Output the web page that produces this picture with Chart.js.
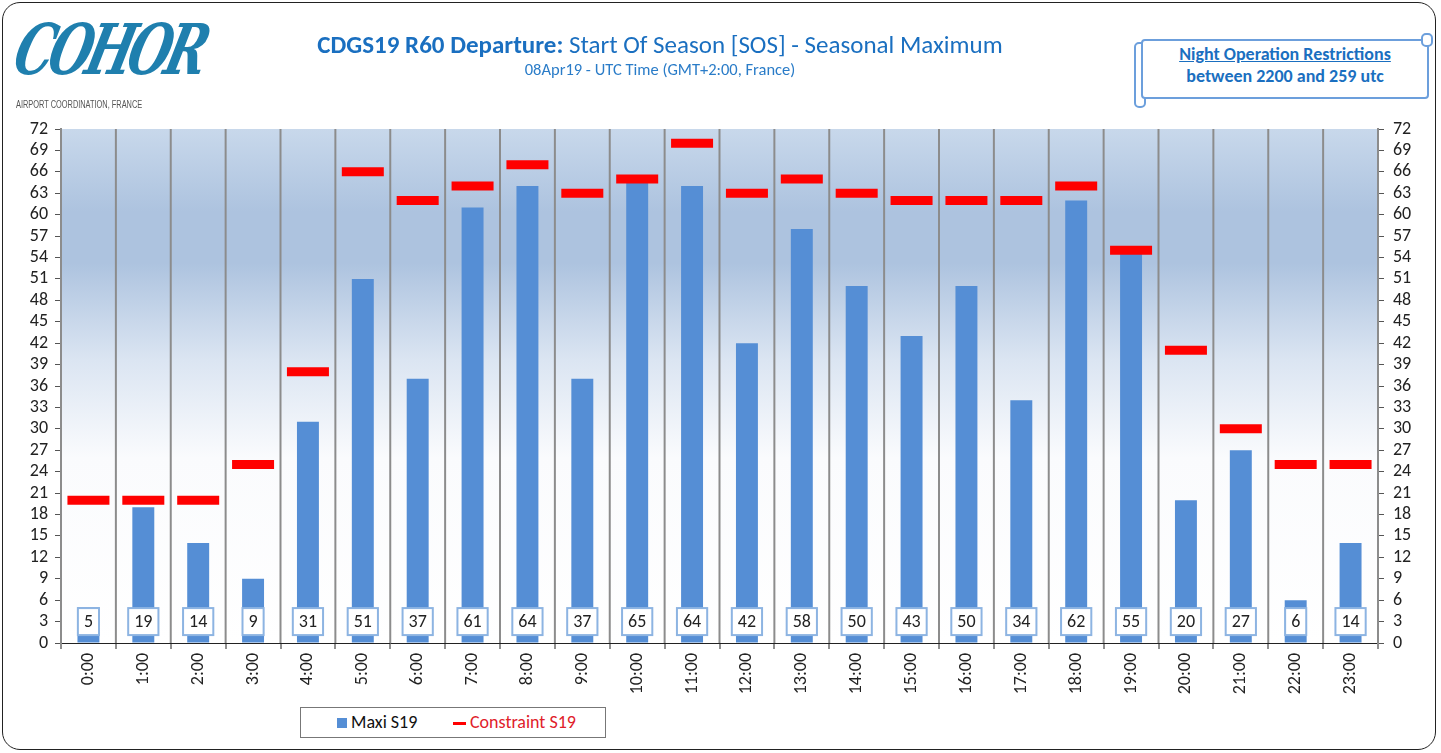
<!DOCTYPE html>
<html>
<head>
<meta charset="utf-8">
<script src="https://cdn.jsdelivr.net/npm/chart.js@4.4.1/dist/chart.umd.min.js"></script>
<style>
  body { margin: 0; background: #fff; font-family: Carlito, Lato, "Open Sans", sans-serif; }
  #page { position: relative; width: 1441px; height: 753px; overflow: hidden; }
  #frame { position: absolute; left: 2px; top: 2px; width: 1432px; height: 746px; border: 1.5px solid #222; border-radius: 18px; }
  #chartBox { position: absolute; left: 0; top: 0; width: 1441px; height: 753px; }
  #logo { position: absolute; left: 27px; top: 8px; font: italic bold 70px "DejaVu Serif", serif; color: #1f7fae; letter-spacing: -7px; transform-origin: left top; transform: skewX(-14deg) scaleX(0.7); }
  #logoSub { position: absolute; left: 16px; top: 99px; font: 10px "Liberation Sans Narrow", Arial, sans-serif; color: #555; transform-origin: left top; transform: scaleX(0.74); white-space: nowrap; }
  #title { position: absolute; left: 110px; width: 1100px; top: 29px; text-align: center; font-size: 25px; color: #1a6fc0; }
  #title b { font-weight: bold; }
  #subtitle { position: absolute; left: 160px; width: 1000px; top: 59px; text-align: center; font-size: 16.5px; color: #2a7cc8; }
  #scroll { position: absolute; left: 1141px; top: 39px; width: 284px; height: 56px; border: 2px solid #6c9fdc; border-radius: 4px; background: #fff; }
  #scrollL { position: absolute; left: 1134px; top: 42px; width: 8px; height: 62px; border: 2px solid #6c9fdc; border-radius: 5px; background: #fff; }
  #scrollR { position: absolute; left: 1421px; top: 33px; width: 8px; height: 10px; border: 2px solid #6c9fdc; border-radius: 5px; background: #fff; }
  #scrollText { position: absolute; left: 1145px; width: 280px; top: 43px; text-align: center; font-weight: bold; font-size: 18px; color: #1a6fc0; line-height: 22px; }
  #legend { position: absolute; left: 300px; top: 707px; width: 304px; height: 29px; border: 1px solid #777; background: #fff; font-size: 18px; }
  .lg { position: absolute; top: 3px; }
</style>
</head>
<body>
<div id="page">
  <div id="frame"></div>
  <div id="chartBox"><canvas id="chart1" width="1441" height="753"></canvas></div>
  <div id="logo">COHOR</div>
  <div id="logoSub">AIRPORT COORDINATION, FRANCE</div>
  <div id="title"><b>CDGS19 R60 Departure:</b> Start Of Season [SOS] - Seasonal Maximum</div>
  <div id="subtitle">08Apr19 - UTC Time (GMT+2:00, France)</div>
  <div id="scrollL"></div>
  <div id="scroll"></div>
  <div id="scrollR"></div>
  <div id="scrollText"><span style="text-decoration: underline;">Night Operation Restrictions</span><br>between 2200 and 259 utc</div>
  <div id="legend">
    <div class="lg" style="left:36px; top:10px; width:10px; height:10px; background:#558ed5;"></div>
    <div class="lg" style="left:50px; color:#111;">Maxi S19</div>
    <div class="lg" style="left:152px; top:14px; width:13px; height:3px; background:#ff0000;"></div>
    <div class="lg" style="left:169px; color:#e0202a;">Constraint S19</div>
  </div>
</div>
<script>
// hours of the day
let hours = ['0:00', '1:00', '2:00', '3:00', '4:00', '5:00', '6:00', '7:00', '8:00', '9:00', '10:00', '11:00',
    '12:00', '13:00', '14:00', '15:00', '16:00', '17:00', '18:00', '19:00', '20:00', '21:00', '22:00', '23:00'];

// Maxi S19 (bars)
let maxiS19 = [5, 19, 14, 9, 31, 51, 37, 61, 64, 37, 65, 64, 42, 58, 50, 43, 50, 34, 62, 55, 20, 27, 6, 14];

// Constraint S19 (red dashes)
let constraintS19 = [20, 20, 20, 25, 38, 66, 62, 64, 67, 63, 65, 70, 63, 65, 63, 62, 62, 62, 64, 55, 41, 30, 25, 25];

let yMax = 72;
let yStep = 3;

let tickFont = { family: 'Carlito, Lato, "Open Sans", sans-serif', size: 18 };

// gradient behind the plot
let bgPlugin = {
    id: 'bgPlugin',
    beforeDatasetsDraw(chart) {
        let a = chart.chartArea;
        let c = chart.ctx;
        let g = c.createLinearGradient(0, a.top, 0, a.bottom);
        g.addColorStop(0, '#c8d8eb');
        g.addColorStop(0.16, '#adc3df');
        g.addColorStop(0.26, '#adc3df');
        g.addColorStop(0.45, '#dbe5f2');
        g.addColorStop(0.64, '#fafbfd');
        g.addColorStop(1, '#ffffff');
        c.save();
        c.fillStyle = g;
        c.fillRect(a.left, a.top, a.right - a.left, a.bottom - a.top);
        // vertical separators drawn again over the gradient
        c.strokeStyle = '#8c8c8c';
        c.lineWidth = 2;
        for (let i = 0; i <= hours.length; i++) {
            let x = a.left + i * (a.right - a.left) / hours.length;
            c.beginPath();
            c.moveTo(x, a.top);
            c.lineTo(x, a.bottom);
            c.stroke();
        }
        c.restore();
    }
};

// value boxes at the bottom of each bar
let boxPlugin = {
    id: 'boxPlugin',
    afterDatasetsDraw(chart) {
        let c = chart.ctx;
        let meta = chart.getDatasetMeta(0);
        let y = chart.scales.y.getPixelForValue(3);
        c.save();
        c.font = '18px ' + tickFont.family;
        c.textAlign = 'center';
        c.textBaseline = 'middle';
        meta.data.forEach((bar, i) => {
            let txt = String(maxiS19[i]);
            let w = c.measureText(txt).width + 12;
            let h = 27;
            c.fillStyle = '#ffffff';
            c.fillRect(bar.x - w / 2, y - h / 2, w, h);
            c.strokeStyle = '#8db4e2';
            c.lineWidth = 2;
            c.strokeRect(bar.x - w / 2, y - h / 2, w, h);
            c.fillStyle = '#222';
            c.fillText(txt, bar.x, y + 1);
        });
        c.restore();
    }
};

new Chart(document.getElementById('chart1').getContext('2d'), {
    data: {
        labels: hours,
        datasets: [{
            type: 'bar',
            label: 'Maxi S19',
            data: maxiS19,
            backgroundColor: '#558ed5',
            barPercentage: 0.4,
            categoryPercentage: 1,
            order: 2,
            yAxisID: 'y'
        }, {
            type: 'line',
            label: 'Constraint S19',
            data: constraintS19,
            showLine: false,
            pointStyle: 'line',
            pointRadius: 21,
            pointHoverRadius: 21,
            pointBorderWidth: 9,
            pointHoverBorderWidth: 9,
            borderColor: '#ff0000',
            backgroundColor: '#ff0000',
            order: 1,
            yAxisID: 'y'
        }]
    },
    options: {
        responsive: false,
        animation: false,
        layout: { padding: { top: 129, left: 0, right: 0, bottom: 0 } },
        plugins: {
            legend: { display: false },
            tooltip: { enabled: false }
        },
        scales: {
            x: {
                offset: true,
                grid: { offset: true, color: '#8c8c8c', lineWidth: 2, tickColor: '#222', tickLength: 6, drawOnChartArea: true, tickWidth: 1 },
                border: { color: '#222', width: 1 },
                ticks: { color: '#222', font: tickFont, minRotation: 90, maxRotation: 90, padding: 4, autoSkip: false },
                afterFit(scale) { scale.height = 110; }
            },
            y: {
                position: 'left',
                min: 0, max: yMax,
                grid: { drawOnChartArea: false, drawTicks: true, tickLength: 6, tickColor: '#555' },
                border: { color: '#8c8c8c', width: 2 },
                ticks: { stepSize: yStep, color: '#222', font: tickFont, padding: 7, autoSkip: false },
                afterFit(scale) { scale.width = 61; }
            },
            y2: {
                position: 'right',
                min: 0, max: yMax,
                grid: { drawOnChartArea: false, drawTicks: true, tickLength: 6, tickColor: '#555' },
                border: { color: '#8c8c8c', width: 2 },
                ticks: { stepSize: yStep, color: '#222', font: tickFont, padding: 9, autoSkip: false },
                afterFit(scale) { scale.width = 63; }
            }
        }
    },
    plugins: [bgPlugin, boxPlugin]
});
</script>
</body>
</html>
